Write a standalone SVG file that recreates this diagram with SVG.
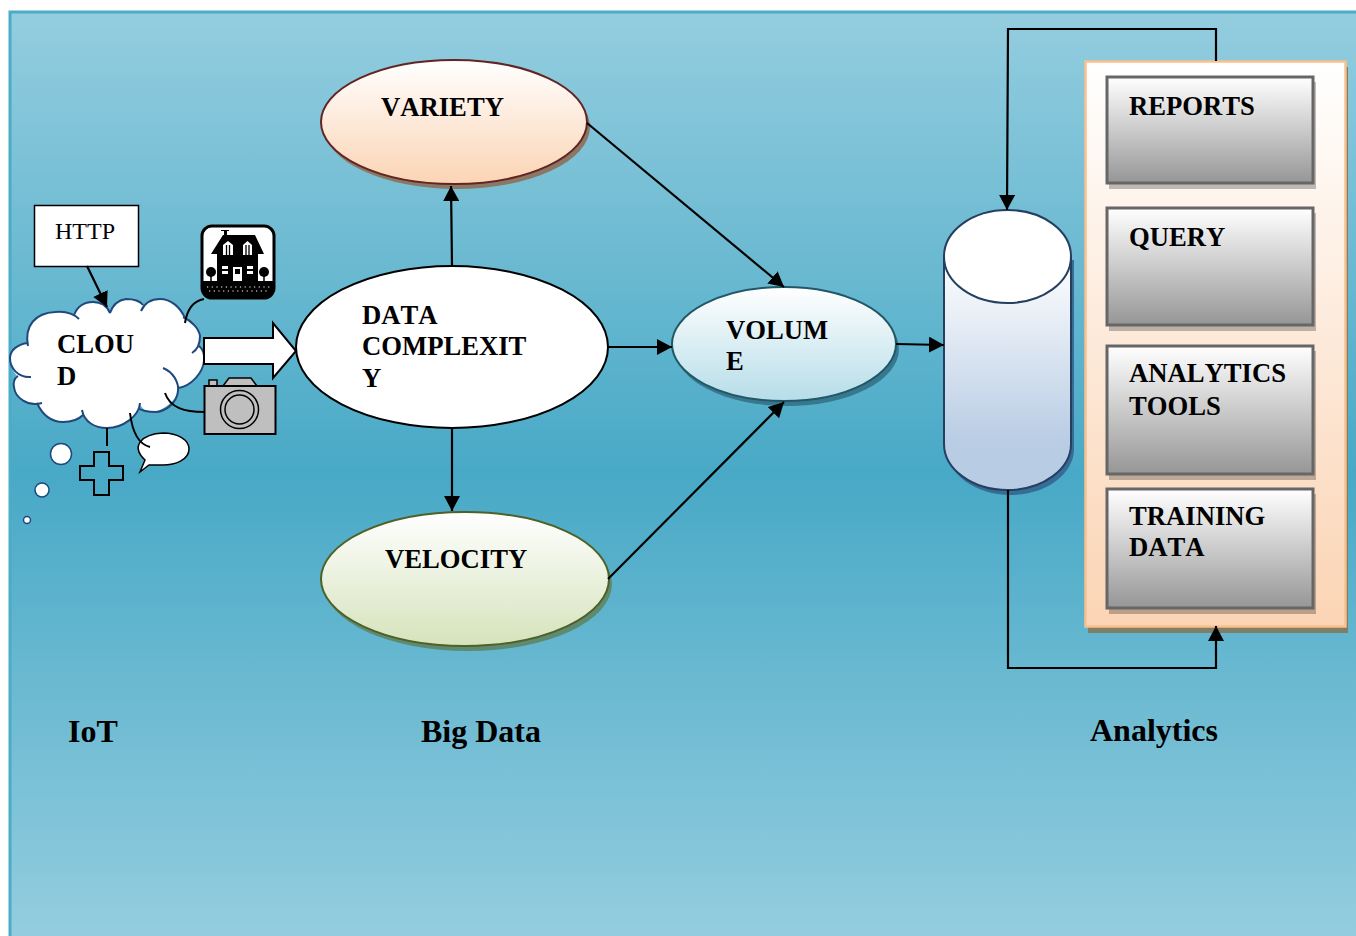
<svg xmlns="http://www.w3.org/2000/svg" width="1356" height="936" viewBox="0 0 1356 936">
<style>
.t{font-family:"Liberation Serif","Times New Roman",serif;font-weight:bold;fill:#000;font-size:26.67px;font-kerning:none}
.big{font-size:32px;font-kerning:normal}
.c{fill:none;stroke:#000;stroke-width:2.200}
.a{marker-end:url(#arrow)}
.cl{fill:none;stroke:#000;stroke-width:2}
.gray{fill:url(#gGray);stroke:#666;stroke-width:3}
.gs{fill:#000;fill-opacity:.25}
</style>
<defs>
<marker id="arrow" markerUnits="userSpaceOnUse" markerWidth="16" markerHeight="16" refX="15" refY="8" orient="auto"><path d="M0 0L15 8L0 16Z" fill="#000"/></marker>
<linearGradient id="gBg" x1="0" y1="0" x2="0" y2="1"><stop offset="0" stop-color="#94cddf"/><stop offset=".5" stop-color="#48a9c6"/><stop offset="1" stop-color="#94cddf"/></linearGradient>
<linearGradient id="gOr" x1="0" y1="0" x2="0" y2="1"><stop offset="0" stop-color="#fff"/><stop offset="1" stop-color="#fbd4b4"/></linearGradient>
<linearGradient id="gBl" x1="0" y1="0" x2="0" y2="1"><stop offset="0" stop-color="#fff"/><stop offset="1" stop-color="#b6dde8"/></linearGradient>
<linearGradient id="gGr" x1="0" y1="0" x2="0" y2="1"><stop offset="0" stop-color="#fff"/><stop offset="1" stop-color="#d6e3bc"/></linearGradient>
<linearGradient id="gCy" x1="0" y1="0" x2="0" y2="1"><stop offset="0" stop-color="#fff"/><stop offset=".8" stop-color="#b8cce4"/><stop offset="1" stop-color="#b8cce4"/></linearGradient>
<linearGradient id="gGray" x1="0" y1="0" x2="0" y2="1"><stop offset="0" stop-color="#fff"/><stop offset="1" stop-color="#969696"/></linearGradient>
</defs>
<rect x="10" y="12" width="1348" height="926" fill="url(#gBg)" stroke="#4bacc6" stroke-width="3"/>

<g id="http"><rect x="34.500" y="205.500" width="104" height="61" fill="#fff" stroke="#000" stroke-width="1.500"/><text x="55" y="239" style="font-family:'Liberation Serif',serif;font-size:24px">HTTP</text></g>

<g id="cloud">
<path fill="#fff" d="M28 346C24 325 36 313 55 312C65 311 74 314 79 319L74 315C78 305 86 302 93 302C101 302 107 306 110 313C113 304 119 300 126 299C133 299 140 301 143 305L141 311C145 302 152 299 160 299C171 299 180 307 185 318L183 317C192 321 199 329 200 336C200 344 198 345 198 345C203 349 205 355 204 361C203 372 192 386 178 388C178 391 177 403 156 412C148 412 142 411 140 403C139 416 123 428 107 428C95 428 84 422 83 415C77 421 70 422 63 422C52 422 43 416 37 403L42 403C28 407 15 398 14 387C13 382 15 378 18 376C18 378 10 368 10 358C10 350 18 344 28 343Z"/>
<path fill="none" stroke="#1f497d" stroke-width="2" d="M28 346C24 325 36 313 55 312C65 311 74 314 79 319M74 315C78 305 86 302 93 302C101 302 107 306 110 313M110 313C113 304 119 300 126 299C133 299 140 301 143 305M141 311C145 302 152 299 160 299C171 299 180 307 185 318M183 317C192 321 199 329 200 336C200 344 197 350 192 353M198 345C203 349 205 355 204 361C203 372 192 386 178 388M163 368C173 372 179 382 178 391C177 403 166 411 156 412C148 412 142 411 138 408M140 403C139 416 123 428 107 428C95 428 84 422 82 410M83 415C77 421 70 422 63 422C52 422 43 416 37 403M42 403C28 407 15 398 14 387C13 382 15 378 18 376M31 377C18 378 10 368 10 358C10 350 18 344 28 343"/>
<circle cx="61" cy="454" r="10.500" fill="#fff" stroke="#1f497d" stroke-width="1.500"/>
<circle cx="42" cy="490" r="7" fill="#fff" stroke="#1f497d" stroke-width="1.500"/>
<circle cx="27" cy="520" r="3.500" fill="#fff" stroke="#1f497d" stroke-width="1.500"/>
<text class="t" x="57" y="353">CLOU</text><text class="t" x="57" y="385">D</text>
</g>

<g id="house">
<rect x="202" y="226" width="72" height="72" rx="10" fill="#fff" stroke="#000" stroke-width="3"/>
<path d="M202 281H274V288A10 10 0 0 1 264 298H212A10 10 0 0 1 202 288Z" fill="#000"/>
<path d="M217 281V254H211L223 235H224V231H221V230H229V231H227V235H255L264 254H258V281Z" fill="#000"/>
<path d="M223 255V245L228 241L233 245V255ZM243 255V245L247.500 241L252 245V255Z" fill="#fff"/>
<path d="M226.500 245V255M229.500 245V255M246 245V255M249 245V255" stroke="#000" stroke-width="1.300"/>
<rect x="222" y="266" width="6" height="3" fill="#fff"/><rect x="222" y="271" width="6" height="3" fill="#fff"/>
<rect x="247" y="266" width="6" height="3" fill="#fff"/><rect x="247" y="271" width="6" height="3" fill="#fff"/>
<rect x="233" y="267" width="9" height="14" fill="#fff"/><rect x="235" y="269" width="5" height="5" fill="#000"/>
<circle cx="211" cy="272" r="5" fill="#000"/><circle cx="264" cy="272" r="5" fill="#000"/>
<path d="M211 272V282M264 272V282" stroke="#000" stroke-width="1.500"/>
<path d="M207 287H270M209 291H270" stroke="#fff" stroke-width="1.200" stroke-dasharray="1.200 3.500"/>
</g>

<g id="big-arrow"><path d="M204 338H273V323L296 351L273 378V364H204Z" fill="#fff" stroke="#000" stroke-width="2"/></g>

<g id="camera">
<path d="M223 386L229 378H251L257 386Z" fill="#bfbfbf" stroke="#000" stroke-width="1.500"/>
<rect x="209" y="380" width="8" height="6" fill="#bfbfbf" stroke="#000" stroke-width="1.500"/>
<rect x="204.500" y="386" width="71" height="48" fill="#bfbfbf" stroke="#000" stroke-width="2"/>
<circle cx="239.500" cy="409.500" r="19" fill="#bfbfbf" stroke="#000" stroke-width="1.500"/>
<circle cx="239.500" cy="409.500" r="14.500" fill="#bfbfbf" stroke="#000" stroke-width="1.500"/>
</g>

<g id="plus"><path d="M94 452H109V466H123V480H109V495H94V480H80V466H94Z" fill="none" stroke="#000" stroke-width="2"/></g>
<g id="speech"><path d="M145 460C130 446 142 434 163 433C178 433 189 440 189 449C189 460 175 465 163 465C157 465 152 465 149 465L140 472Z" fill="#fff" stroke="#000" stroke-width="1.500"/></g>

<g id="variety">
<ellipse cx="457" cy="127" rx="133" ry="62" fill="#8a7864"/>
<ellipse cx="454" cy="122" rx="133" ry="62" fill="url(#gOr)" stroke="#632523" stroke-width="2"/>
<text class="t" x="381" y="116">VARIETY</text>
</g>
<g id="complexity">
<ellipse cx="452" cy="347" rx="156" ry="81" fill="#fff" stroke="#000" stroke-width="2"/>
<text class="t" x="362" y="324">DATA</text><text class="t" x="362" y="355">COMPLEXIT</text><text class="t" x="362" y="387">Y</text>
</g>
<g id="volume">
<ellipse cx="787" cy="349" rx="112" ry="57" fill="#38788f"/>
<ellipse cx="784" cy="344" rx="112" ry="57" fill="url(#gBl)" stroke="#205867" stroke-width="2"/>
<text class="t" x="726" y="339">VOLUM</text><text class="t" x="726" y="370">E</text>
</g>
<g id="velocity">
<ellipse cx="468" cy="584" rx="144" ry="67" fill="#5d8a70"/>
<ellipse cx="465" cy="579" rx="144" ry="67" fill="url(#gGr)" stroke="#4e6128" stroke-width="2"/>
<text class="t" x="385" y="568">VELOCITY</text>
</g>

<g id="database">
<path d="M947 260V449C947 474 975 495 1010.500 495C1046 495 1074 474 1074 449V260Z" fill="#366d96"/>
<path d="M944 256V444C944 469 972 490 1007.500 490C1043 490 1071 469 1071 444V256Z" fill="url(#gCy)" stroke="#243f60" stroke-width="2"/>
<ellipse cx="1007.500" cy="256.500" rx="63.500" ry="46.500" fill="#fff" stroke="#243f60" stroke-width="2"/>
</g>

<g id="panel">
<rect x="1088" y="67" width="260" height="566" fill="#7f7f65"/>
<rect x="1085.500" y="61.500" width="260" height="565" fill="url(#gOr)" stroke="#fac08f" stroke-width="2.500"/>
</g>
<g id="reports"><rect class="gs" x="1109" y="82" width="207" height="107"/><rect class="gray" x="1107" y="77" width="206" height="106"/><text class="t" x="1129" y="115">REPORTS</text></g>
<g id="query"><rect class="gs" x="1109" y="213" width="207" height="118"/><rect class="gray" x="1107" y="208" width="206" height="117"/><text class="t" x="1129" y="246">QUERY</text></g>
<g id="analytics-tools"><rect class="gs" x="1109" y="351" width="207" height="129"/><rect class="gray" x="1107" y="346" width="206" height="128"/><text class="t" x="1129" y="382">ANALYTICS</text><text class="t" x="1129" y="415">TOOLS</text></g>
<g id="training-data"><rect class="gs" x="1109" y="494" width="207" height="120"/><rect class="gray" x="1107" y="489" width="206" height="119"/><text class="t" x="1129" y="525">TRAINING</text><text class="t" x="1129" y="556">DATA</text></g>

<g id="captions">
<text class="t big" x="68" y="742">IoT</text>
<text class="t big" x="421" y="742">Big Data</text>
<text class="t big" x="1090" y="741">Analytics</text>
</g>

<g id="connectors">
<path class="c a" d="M452 266L451 186"/>
<path class="c a" d="M452 428L452 511"/>
<path class="c a" d="M608 347L672 347"/>
<path class="c a" d="M587 123L784 287"/>
<path class="c a" d="M608 579L784 402"/>
<path class="c a" d="M896 344L944 345"/>
<path class="c a" d="M1216 61L1216 29L1008 29L1007 210"/>
<path class="c a" d="M1008 490L1008 668L1216 668L1216 626"/>
<path class="c a" d="M87 266L107 307"/>
<path class="cl" d="M204 299C193 301 187 310 185 323"/>
<path class="cl" d="M204 412C185 412 170 408 165 393"/>
<path class="cl" d="M130 413C132 430 138 444 150 447"/>
<path class="cl" d="M107 428L107 446"/>
</g>
</svg>
